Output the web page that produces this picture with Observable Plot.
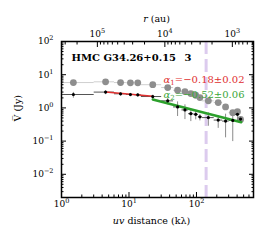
<!DOCTYPE html>
<html><head><meta charset="utf-8">
<script src="https://cdn.jsdelivr.net/npm/d3@7"></script>
<script src="https://cdn.jsdelivr.net/npm/@observablehq/plot@0.6"></script>
<style>
html,body{margin:0;padding:0;background:#fff;}
#chart svg{display:block;}
</style></head><body><div id="chart"></div>
<script>
// binned visibility data (uv distance in kλ)
const uv     = [1.5, 4.5, 7.5, 10.5, 13.5, 22.5, 37.5, 52.5, 67.5, 82.5, 97.5, 112.5, 150, 210, 270, 345, 405, 450];
const binLo  = [0, 3, 6, 9, 12, 15, 30, 45, 60, 75, 90, 105, 120, 180, 240, 300, 375, 425];
const binHi  = [3, 6, 9, 12, 15, 30, 45, 60, 75, 90, 105, 120, 180, 240, 300, 375, 425, 475];
const visAll = [5.8, 6.1, 5.8, 5.7, 5.7, 5.0, 4.1, 3.4, 3.1, 2.7, 2.4, 2.05, 1.63, 1.45, 1.07, 0.72, 0.77, 0.45];
const visSub = [2.53, 2.99, 2.66, 2.53, 2.48, 2.2, 1.63, 1.07, 0.87, 0.67, 0.64, 0.54, 0.51, 0.43, 0.40, 0.42, 0.64, 0.46];
const visErr = [0.5, 0.4, 0.3, 0.3, 0.3, 0.3, 0.35, 0.5, 0.41, 0.27, 0.19, 0.12, 0.22, 0.18, 0.27, 0.32, 0.24, 0.1];
// power-law fits (end points)
const fit1UV = [4.5, 22.5], fit1V = [3.0, 2.24];
const fit2UV = [22.5, 460], fit2V = [1.8, 0.37];
const fitLabels = ["−0.18±0.02", "−0.52±0.06"];
const markerUV = [139];
const sourceName = "HMC G34.26+0.15\u2002 3";
const auPerKlambda = 3.4e5; // r(au) = K / uv(kλ)
// axes ticks
const xMajor = [1, 10, 100];
const yMajor = [0.01, 0.1, 1, 10, 100];
const rMajor = [1e5, 1e4, 1e3];

const xDomain = [1, 700], yDomain = [0.002, 100];
const minorsOf = (lo, hi) => { const out = []; for (let e = -4; e <= 6; e++) for (let m = 2; m <= 9; m++) { const v = m * 10 ** e; if (v > lo && v < hi) out.push(v); } return out; };
const xMinor = minorsOf(...xDomain);
const yMinor = minorsOf(...yDomain);
const rMinor = minorsOf(auPerKlambda / xDomain[1], auPerKlambda / xDomain[0]).map(r => auPerKlambda / r);
const rMajorUV = rMajor.map(r => auPerKlambda / r);

const data = uv.map((u, i) => ({uv: u, lo: Math.max(binLo[i], xDomain[0]), hi: binHi[i], all: visAll[i], sub: visSub[i], err: visErr[i]}));
const fit1 = fit1UV.map((u, i) => ({uv: u, v: fit1V[i]}));
const fit2 = fit2UV.map((u, i) => ({uv: u, v: fit2V[i]}));

const expFmt = d => "10^" + Math.round(Math.log10(d));
const rFmt = d => "10^" + Math.round(Math.log10(auPerKlambda / d));
const none = () => "";
const LBL_X = "uv distance (kλ)", LBL_TOP = "r (au)", LBL_Y = "V (Jy)";
const ALPHA1 = "α1=" + fitLabels[0], ALPHA2 = "α2=" + fitLabels[1];

const svg = Plot.plot({
  width: 265, height: 241,
  marginLeft: 61, marginRight: 12, marginTop: 41, marginBottom: 44,
  style: {fontFamily: "'DejaVu Serif', serif", fontSize: "9px", background: "#fff", color: "black"},
  x: {type: "log", domain: xDomain},
  y: {type: "log", domain: yDomain},
  marks: [
    Plot.ruleX(markerUV, {stroke: "#dccbee", strokeWidth: 3, strokeDasharray: "13,5"}),
    Plot.link(data, {x1: "lo", x2: "hi", y1: "all", y2: "all", stroke: "#cfcfcf", strokeWidth: 1}),
    Plot.dot(data, {x: "uv", y: "all", r: 3.4, fill: "#8e8e8e"}),
    Plot.link(data, {x1: "uv", x2: "uv", y1: d => d.sub - d.err, y2: d => d.sub + d.err, stroke: "#8a8a8a", strokeWidth: 1}),
    Plot.link(data, {x1: "lo", x2: "hi", y1: "sub", y2: "sub", stroke: "#555", strokeWidth: 1}),
    Plot.line(fit1, {x: "uv", y: "v", stroke: "#e0302f", strokeWidth: 1.5}),
    Plot.line(fit2, {x: "uv", y: "v", stroke: "#2ca02c", strokeWidth: 2.5}),
    Plot.dot(data, {x: "uv", y: "sub", r: 1.6, fill: "black"}),
    Plot.axisX(xMajor, {anchor: "bottom", tickSize: -5, tickPadding: 8, tickFormat: expFmt, label: null, fontSize: 9}),
    Plot.axisX(xMinor, {anchor: "bottom", tickSize: -2.5, tickFormat: none, label: null}),
    Plot.axisX(rMajorUV, {anchor: "top", tickSize: -5, tickFormat: none, label: null}),
    Plot.axisX(rMinor, {anchor: "top", tickSize: -2.5, tickFormat: none, label: null}),
    Plot.text(rMajorUV, {x: d => d, frameAnchor: "top", dy: -11, text: rFmt, fontSize: 9}),
    Plot.axisY(yMajor, {anchor: "left", tickSize: -5, tickPadding: 13, tickFormat: expFmt, label: null, fontSize: 9}),
    Plot.axisY(yMinor, {anchor: "left", tickSize: -2.5, tickFormat: none, label: null}),
    Plot.axisY(yMajor, {anchor: "right", tickSize: -5, tickFormat: none, label: null}),
    Plot.axisY(yMinor, {anchor: "right", tickSize: -2.5, tickFormat: none, label: null}),
    Plot.frame({stroke: "black", strokeWidth: 1.5}),
    Plot.text([sourceName], {frameAnchor: "top-left", dx: 10, dy: 12, fontWeight: "bold", fontSize: 10, textAnchor: "start"}),
    Plot.text([ALPHA1], {frameAnchor: "top-right", dx: -9, dy: 34, fill: "#e0302f", fontSize: 10, textAnchor: "end"}),
    Plot.text([ALPHA2], {frameAnchor: "top-right", dx: -9, dy: 49, fill: "#3aa63a", fontSize: 10, textAnchor: "end"}),
    Plot.text([LBL_X], {frameAnchor: "bottom", dx: -6, dy: 26, fontSize: 9.5}),
    Plot.text([LBL_TOP], {frameAnchor: "top", dx: -1, dy: -26, fontSize: 9.5}),
    Plot.text([LBL_Y], {frameAnchor: "left", dx: -44, dy: 2, rotate: -90, fontSize: 9.5})
  ]
});
document.getElementById("chart").appendChild(svg);

const root = d3.select(svg);
const texts = root.selectAll("text");
texts.each(function () {
  const t = this.textContent;
  const s = d3.select(this);
  const m = /^10\^(.+)$/.exec(t);
  if (m) {
    s.text("10");
    s.append("tspan").attr("dy", "-4").attr("font-size", "6.5").text(m[1].replace("-", "−"));
  } else if (t === LBL_X) {
    s.text("");
    s.append("tspan").attr("font-style", "italic").text("uv");
    s.append("tspan").text(" distance (kλ)");
  } else if (t === LBL_TOP) {
    s.text("");
    s.append("tspan").attr("font-style", "italic").text("r");
    s.append("tspan").text(" (au)");
  } else if (t === LBL_Y) {
    s.text("V\u0305 (Jy)");
  } else if (t === ALPHA1 || t === ALPHA2) {
    s.text("");
    s.append("tspan").attr("font-style", "italic").text("α");
    s.append("tspan").attr("font-size", "7").attr("dy", "2").text(t === ALPHA1 ? "1" : "2");
    s.append("tspan").attr("dy", "-2").text("=" + (t === ALPHA1 ? fitLabels[0] : fitLabels[1]));
  }
});
</script></body></html>
